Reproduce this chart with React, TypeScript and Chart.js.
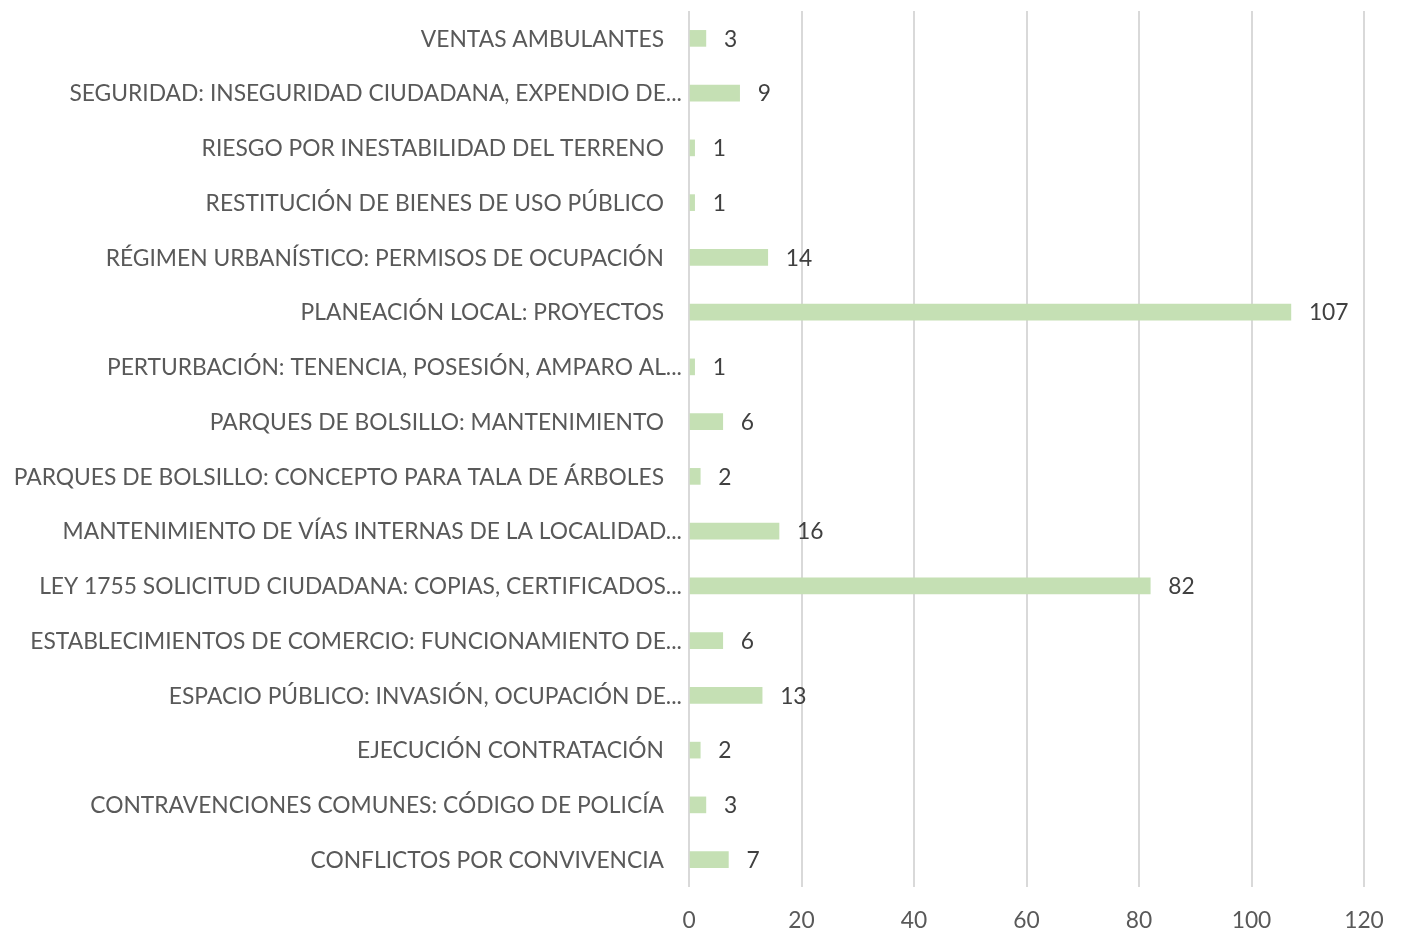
import React, { useEffect, useRef } from "react";
import { Chart, registerables } from "chart.js";

Chart.register(...registerables);

const categories: string[] = [
  "VENTAS AMBULANTES",
  "SEGURIDAD: INSEGURIDAD CIUDADANA, EXPENDIO DE...",
  "RIESGO POR INESTABILIDAD DEL TERRENO",
  "RESTITUCIÓN DE BIENES DE USO PÚBLICO",
  "RÉGIMEN URBANÍSTICO: PERMISOS DE OCUPACIÓN",
  "PLANEACIÓN LOCAL: PROYECTOS",
  "PERTURBACIÓN: TENENCIA, POSESIÓN, AMPARO AL...",
  "PARQUES DE BOLSILLO: MANTENIMIENTO",
  "PARQUES DE BOLSILLO: CONCEPTO PARA TALA DE ÁRBOLES",
  "MANTENIMIENTO DE VÍAS INTERNAS DE LA LOCALIDAD...",
  "LEY 1755 SOLICITUD CIUDADANA: COPIAS, CERTIFICADOS...",
  "ESTABLECIMIENTOS DE COMERCIO: FUNCIONAMIENTO DE...",
  "ESPACIO PÚBLICO: INVASIÓN, OCUPACIÓN DE...",
  "EJECUCIÓN CONTRATACIÓN",
  "CONTRAVENCIONES COMUNES: CÓDIGO DE POLICÍA",
  "CONFLICTOS POR CONVIVENCIA",
];

const values: number[] = [3, 9, 1, 1, 14, 107, 1, 6, 2, 16, 82, 6, 13, 2, 3, 7];

const xMin = 0;
const xMax = 120;
const xStep = 20;

const FONT = "Lato, 'Open Sans', sans-serif";
const FONT_SIZE = 22.8;

const dataLabelPlugin = {
  id: "dataLabels",
  afterDatasetsDraw(chart: any) {
    const ctx = chart.ctx;
    const meta = chart.getDatasetMeta(0);
    ctx.save();
    ctx.font = `${FONT_SIZE}px ${FONT}`;
    ctx.fillStyle = "#404040";
    ctx.textAlign = "left";
    ctx.textBaseline = "middle";
    meta.data.forEach((bar: any, i: number) => {
      ctx.fillText(String(values[i]), bar.x + 18, bar.y + 1);
    });
    ctx.restore();
  },
};

const categoryLabelPlugin = {
  id: "categoryLabels",
  afterDraw(chart: any) {
    const ctx = chart.ctx;
    const y = chart.scales.y;
    ctx.save();
    ctx.font = `${FONT_SIZE}px ${FONT}`;
    ctx.fillStyle = "#595959";
    ctx.textAlign = "right";
    ctx.textBaseline = "middle";
    categories.forEach((label, i) => {
      const truncated = label.endsWith("...");
      const right = chart.chartArea.left - (truncated ? 7 : 25);
      ctx.fillText(label, right, y.getPixelForValue(i) + 1);
    });
    ctx.restore();
  },
};

export default function App() {
  const ref = useRef<HTMLCanvasElement>(null);
  useEffect(() => {
    if (!ref.current) return;
    const chart = new Chart(ref.current, {
      type: "bar",
      data: {
        labels: categories,
        datasets: [
          {
            data: values,
            backgroundColor: "#c5e0b4",
            borderWidth: 0,
            barThickness: 16,
          },
        ],
      },
      options: {
        indexAxis: "y",
        animation: false,
        responsive: false,
        maintainAspectRatio: false,
        layout: { padding: { top: 11, right: 37, bottom: 0, left: 0 } },
        plugins: { legend: { display: false }, tooltip: { enabled: false } },
        scales: {
          x: {
            min: xMin,
            max: xMax,
            ticks: {
              stepSize: xStep,
              color: "#595959",
              font: { family: FONT, size: FONT_SIZE },
              padding: 20,
            },
            grid: { color: "#d9d9d9", lineWidth: 2, drawTicks: false },
            border: { display: false },
            afterFit(scale: any) {
              scale.height = 64;
              scale.paddingLeft = 0;
              scale.paddingRight = 0;
            },
          },
          y: {
            ticks: { display: false },
            grid: { display: false, drawTicks: false },
            border: { display: false },
            afterFit(scale: any) {
              scale.width = 689;
              scale.paddingTop = 0;
              scale.paddingBottom = 0;
            },
          },
        },
      },
      plugins: [dataLabelPlugin, categoryLabelPlugin],
    });
    return () => chart.destroy();
  }, []);
  return (
    <div style={{ position: "fixed", left: 0, top: 0, width: 1401, height: 951, background: "#fff" }}>
      <canvas ref={ref} width={1401} height={951} />
    </div>
  );
}
